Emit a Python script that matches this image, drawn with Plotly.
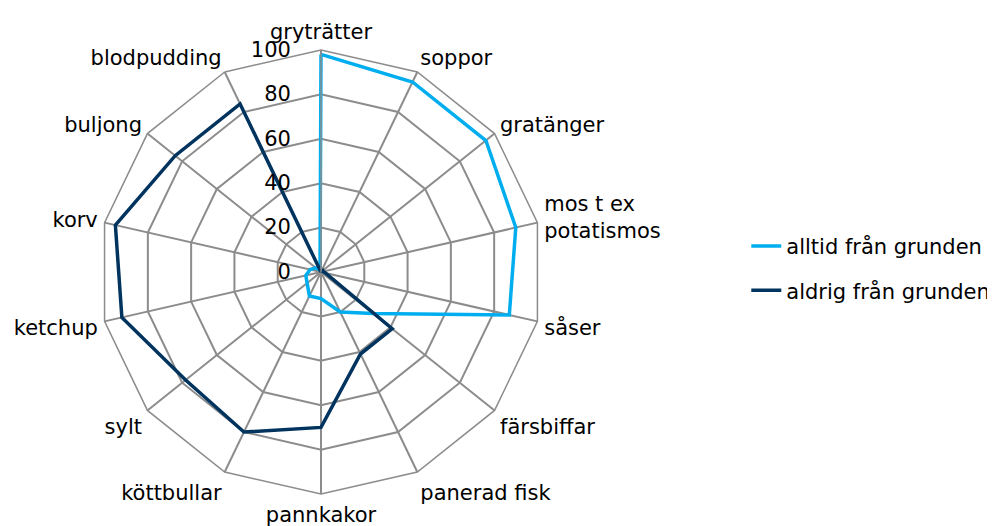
import plotly.graph_objects as go

categories = ["gryträtter", "soppor", "gratänger", "mos t ex<br>potatismos", "såser",
              "färsbiffar", "panerad fisk", "pannkakor", "köttbullar", "sylt",
              "ketchup", "korv", "buljong", "blodpudding"]
alltid = [98, 95, 95, 90, 87, 30, 20, 12, 12, 8, 7, 5, 3, 1]
aldrig = [0, 0, 1, 1, 2, 41, 41, 70, 80, 78, 92, 95, 84, 84]
radial_ticks = [0, 20, 40, 60, 80, 100]

fig = go.Figure()
fig.add_trace(go.Scatterpolar(
    r=alltid + alltid[:1], theta=categories + categories[:1],
    mode="lines", name="alltid från grunden", legendgroup="a",
    line=dict(color="#00AEEF", width=3.5)))
fig.add_trace(go.Scatterpolar(
    r=aldrig + aldrig[:1], theta=categories + categories[:1],
    mode="lines", name="aldrig från grunden", legendgroup="b",
    line=dict(color="#00345F", width=3.5)))

grid = "#8C8C8C"
cx, cy, R = 313, 264, 222
fig.update_layout(
    width=995, height=526,
    margin=dict(l=0, r=0, t=0, b=0),
    paper_bgcolor="white",
    font=dict(family="DejaVu Sans", size=21, color="#000000"),
    polar=dict(
        domain=dict(x=[(cx - R) / 995, (cx + R) / 995],
                    y=[(526 - cy - R) / 526, (526 - cy + R) / 526]),
        bgcolor="white",
        gridshape="linear",
        angularaxis=dict(
            direction="clockwise", rotation=90, categoryorder="array",
            categoryarray=categories,
            showline=True, linecolor=grid, linewidth=1.5,
            gridcolor=grid, gridwidth=1.5,
            ticks="outside", ticklen=2, tickcolor="rgba(0,0,0,0)",
            tickfont=dict(size=21)),
        radialaxis=dict(
            range=[0, 100], tickvals=radial_ticks, angle=90, tickangle=90,
            side="counterclockwise", showline=True, linecolor=grid, linewidth=1.5,
            gridcolor=grid, gridwidth=1.5,
            ticks="outside", ticklen=22, tickcolor="rgba(0,0,0,0)",
            tickfont=dict(size=21)),
    ),
    showlegend=True,
    legend=dict(x=0.742, y=0.505, xanchor="left", yanchor="middle",
                tracegroupgap=14, font=dict(size=21)),
)

fig.write_html("out.html")
